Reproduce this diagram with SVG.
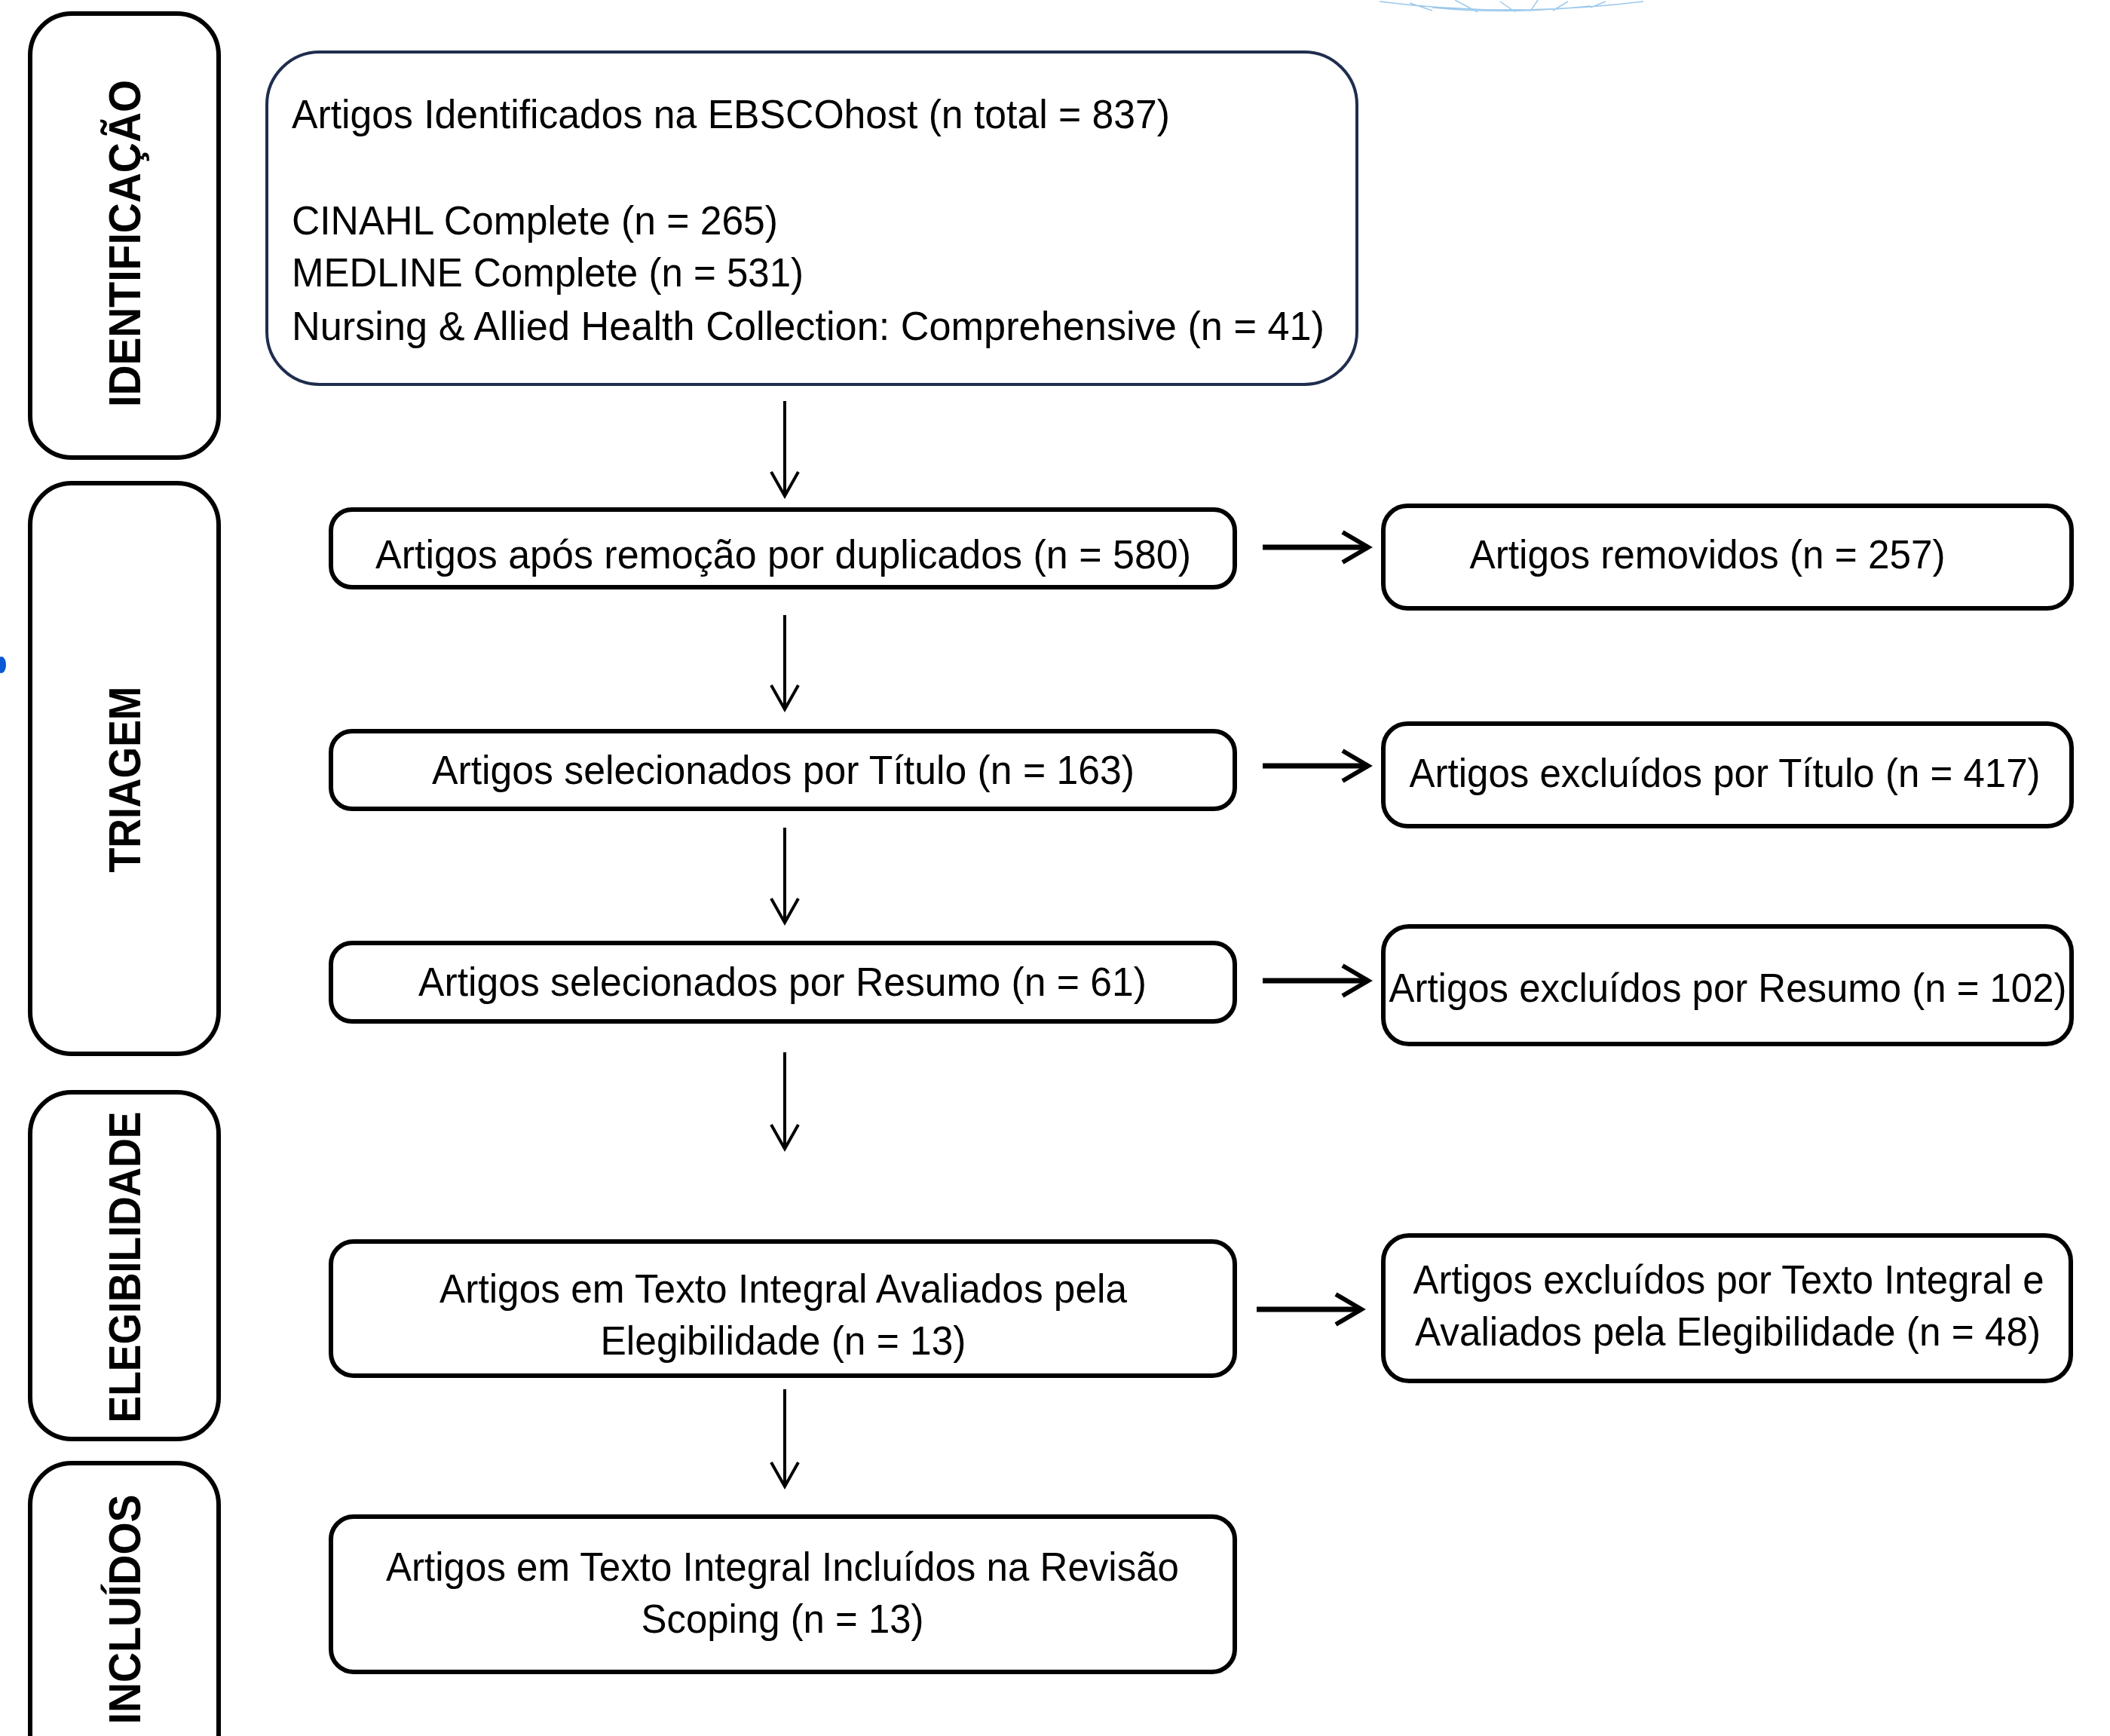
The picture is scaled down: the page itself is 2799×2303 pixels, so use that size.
<svg xmlns="http://www.w3.org/2000/svg" width="2799" height="2303" viewBox="0 0 2799 2303">
<defs>
<style>
.lane{fill:#fff;stroke:#000;stroke-width:6}
.lt{font-family:"Liberation Sans",Arial,sans-serif;font-weight:bold;font-size:60px;fill:#000;text-anchor:middle}
.box{fill:#fff;stroke:#000;stroke-width:6}
.top{fill:#fff;stroke:#1f2d4e;stroke-width:4}
.t{font-family:"Liberation Sans",Arial,sans-serif;font-size:54px;fill:#000}
.c{text-anchor:middle}
.v{stroke:#000;stroke-width:4;fill:none}
.h{stroke:#000;stroke-width:7;fill:none}
.wm{stroke:#9cc9ec;stroke-width:1.5;fill:none}
</style>
<marker id="av" markerUnits="userSpaceOnUse" viewBox="-40 -25 46 50" markerWidth="46" markerHeight="50" refX="0" refY="0" orient="auto">
<path d="M-32,-18 L0,0 L-32,18" fill="none" stroke="#000" stroke-width="4"/>
</marker>
<marker id="ah" markerUnits="userSpaceOnUse" viewBox="-40 -25 46 50" markerWidth="46" markerHeight="50" refX="0" refY="0" orient="auto">
<path d="M-34,-20 L0,0 L-34,20" fill="none" stroke="#000" stroke-width="6"/>
</marker>
</defs>
<rect width="2799" height="2303" fill="#fff"/>

<!-- decorative fragments -->
<path class="wm" d="M1830,2 Q2000,24 2180,2 M1870,4 L1900,14 M1930,0 L1960,16 M1990,2 L2010,16 M2040,0 L2030,15 M2080,2 L2060,14 M2130,2 L2110,10 M1900,10 Q2000,20 2110,8"/>
<ellipse cx="2" cy="882" rx="6" ry="11" fill="#0a58d4"/>

<!-- lanes -->
<g id="lane-identificacao">
<rect class="lane" x="40" y="18" width="250" height="589" rx="55"/>
<text class="lt" transform="translate(186,323) rotate(-90)" textLength="434" lengthAdjust="spacingAndGlyphs">IDENTIFICAÇÃO</text>
</g>
<g id="lane-triagem">
<rect class="lane" x="40" y="641" width="250" height="757" rx="55"/>
<text class="lt" transform="translate(186,1034) rotate(-90)" textLength="247" lengthAdjust="spacingAndGlyphs">TRIAGEM</text>
</g>
<g id="lane-elegibilidade">
<rect class="lane" x="40" y="1449" width="250" height="460" rx="55"/>
<text class="lt" transform="translate(186,1681) rotate(-90)" textLength="413" lengthAdjust="spacingAndGlyphs">ELEGIBILIDADE</text>
</g>
<g id="lane-incluidos">
<rect class="lane" x="40" y="1941" width="250" height="420" rx="55"/>
<text class="lt" transform="translate(186,2135) rotate(-90)" textLength="305" lengthAdjust="spacingAndGlyphs">INCLUÍDOS</text>
</g>

<!-- nodes -->
<g id="identificados">
<rect class="top" x="354" y="69" width="1446" height="441" rx="70"/>
<text class="t" x="387" y="170" textLength="1165" lengthAdjust="spacingAndGlyphs">Artigos Identificados na EBSCOhost (n total = 837)</text>
<text class="t" x="387" y="311" textLength="645" lengthAdjust="spacingAndGlyphs">CINAHL Complete (n = 265)</text>
<text class="t" x="387" y="380" textLength="679" lengthAdjust="spacingAndGlyphs">MEDLINE Complete (n = 531)</text>
<text class="t" x="387" y="451" textLength="1370" lengthAdjust="spacingAndGlyphs">Nursing &amp; Allied Health Collection: Comprehensive (n = 41)</text>
</g>
<g id="apos-duplicados">
<rect class="box" x="439" y="676" width="1199" height="103" rx="28"/>
<text class="t c" x="1039" y="754" textLength="1082" lengthAdjust="spacingAndGlyphs">Artigos após remoção por duplicados (n = 580)</text>
</g>
<g id="sel-titulo">
<rect class="box" x="439" y="970" width="1199" height="103" rx="28"/>
<text class="t c" x="1039" y="1040" textLength="932" lengthAdjust="spacingAndGlyphs">Artigos selecionados por Título (n = 163)</text>
</g>
<g id="sel-resumo">
<rect class="box" x="439" y="1251" width="1199" height="104" rx="28"/>
<text class="t c" x="1038" y="1321" textLength="966" lengthAdjust="spacingAndGlyphs">Artigos selecionados por Resumo (n = 61)</text>
</g>
<g id="avaliados">
<rect class="box" x="439" y="1647" width="1199" height="178" rx="30"/>
<text class="t c" x="1039" y="1728" textLength="912" lengthAdjust="spacingAndGlyphs">Artigos em Texto Integral Avaliados pela</text>
<text class="t c" x="1039" y="1797" textLength="485" lengthAdjust="spacingAndGlyphs">Elegibilidade (n = 13)</text>
</g>
<g id="incluidos">
<rect class="box" x="439" y="2012" width="1199" height="206" rx="30"/>
<text class="t c" x="1038" y="2097" textLength="1052" lengthAdjust="spacingAndGlyphs">Artigos em Texto Integral Incluídos na Revisão</text>
<text class="t c" x="1038" y="2166" textLength="375" lengthAdjust="spacingAndGlyphs">Scoping (n = 13)</text>
</g>
<g id="removidos">
<rect class="box" x="1835" y="671" width="913" height="136" rx="32"/>
<text class="t c" x="2265" y="754" textLength="631" lengthAdjust="spacingAndGlyphs">Artigos removidos (n = 257)</text>
</g>
<g id="excl-titulo">
<rect class="box" x="1835" y="960" width="913" height="136" rx="32"/>
<text class="t c" x="2288" y="1044" textLength="837" lengthAdjust="spacingAndGlyphs">Artigos excluídos por Título (n = 417)</text>
</g>
<g id="excl-resumo">
<rect class="box" x="1835" y="1229" width="913" height="156" rx="34"/>
<text class="t c" x="2292" y="1329" textLength="899" lengthAdjust="spacingAndGlyphs">Artigos excluídos por Resumo (n = 102)</text>
</g>
<g id="excl-texto">
<rect class="box" x="1835" y="1639" width="912" height="193" rx="34"/>
<text class="t c" x="2293" y="1716" textLength="837" lengthAdjust="spacingAndGlyphs">Artigos excluídos por Texto Integral e</text>
<text class="t c" x="2292" y="1785" textLength="830" lengthAdjust="spacingAndGlyphs">Avaliados pela Elegibilidade (n = 48)</text>
</g>

<!-- connectors -->
<g id="connectors">
<line class="v" x1="1041" y1="532" x2="1041" y2="658" marker-end="url(#av)"/>
<line class="v" x1="1041" y1="816" x2="1041" y2="941" marker-end="url(#av)"/>
<line class="v" x1="1041" y1="1098" x2="1041" y2="1224" marker-end="url(#av)"/>
<line class="v" x1="1041" y1="1396" x2="1041" y2="1524" marker-end="url(#av)"/>
<line class="v" x1="1041" y1="1843" x2="1041" y2="1972" marker-end="url(#av)"/>
<line class="h" x1="1675" y1="726" x2="1815" y2="726" marker-end="url(#ah)"/>
<line class="h" x1="1675" y1="1016" x2="1815" y2="1016" marker-end="url(#ah)"/>
<line class="h" x1="1675" y1="1301" x2="1815" y2="1301" marker-end="url(#ah)"/>
<line class="h" x1="1667" y1="1737" x2="1806" y2="1737" marker-end="url(#ah)"/>
</g>
</svg>
